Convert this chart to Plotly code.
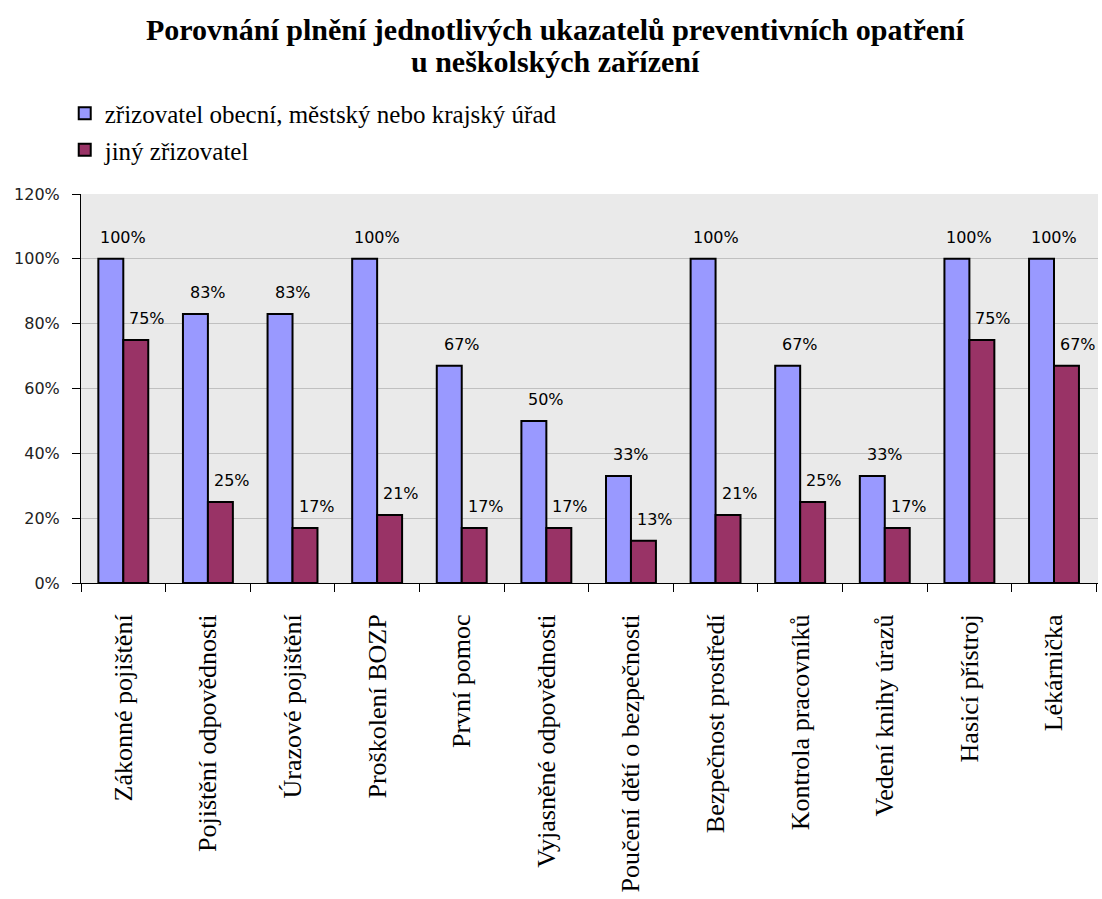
import plotly.graph_objects as go

categories = [
    "Zákonné pojištění",
    "Pojištění odpovědnosti",
    "Úrazové pojištění",
    "Proškolení BOZP",
    "První pomoc",
    "Vyjasněné odpovědnosti",
    "Poučení dětí o bezpečnosti",
    "Bezpečnost prostředí",
    "Kontrola pracovníků",
    "Vedení knihy úrazů",
    "Hasicí přístroj",
    "Lékárnička",
]
obecni = [100, 83, 83, 100, 67, 50, 33, 100, 67, 33, 100, 100]
jiny = [75, 25, 17, 21, 17, 17, 13, 21, 25, 17, 75, 67]

series_names = ["zřizovatel obecní, městský nebo krajský úřad", "jiný zřizovatel"]
series_colors = ["#9999FF", "#993366"]
title_lines = [
    "Porovnání plnění jednotlivých ukazatelů preventivních opatření",
    "u neškolských zařízení",
]

fig = go.Figure()
for i, (name, vals, col) in enumerate(zip(series_names, [obecni, jiny], series_colors)):
    fig.add_trace(go.Bar(
        x=categories, y=vals, name=name, legendgroup=f"g{i}",
        marker=dict(color=col, line=dict(color="black", width=2)),
    ))

# value labels above each bar, Excel style (slightly right of bar centre)
label_font = dict(family="DejaVu Sans", size=16, color="black")
annotations = []
for vals, xs in [(obecni, 0), (jiny, 24)]:
    for c, v in zip(categories, vals):
        annotations.append(dict(
            x=c, y=v, xref="x", yref="y", text=f"{v}%", showarrow=False,
            xanchor="center", yanchor="bottom", xshift=xs, yshift=10,
            font=label_font,
        ))

# chart title, one annotation per line for tighter leading
for line, ypos in zip(title_lines, [1.423, 1.341]):
    annotations.append(dict(
        text=f"<b>{line}</b>",
        x=0.467, y=ypos, xref="paper", yref="paper", xanchor="center", yanchor="middle",
        showarrow=False,
        font=dict(family="Liberation Serif", size=30, color="black"),
    ))

fig.update_layout(
    width=1102, height=899,
    margin=dict(l=81, r=4, t=194, b=316),
    paper_bgcolor="white",
    plot_bgcolor="#EAEAEA",
    barmode="group",
    bargap=0.41,
    bargroupgap=0,
    legend=dict(
        x=-0.016, y=1.266, xanchor="left", yanchor="top",
        font=dict(family="Liberation Serif", size=25, color="black"),
        bgcolor="rgba(0,0,0,0)", tracegroupgap=1,
    ),
    annotations=annotations,
    showlegend=True,
)

fig.update_yaxes(
    range=[0, 120], dtick=20, ticksuffix="%",
    showgrid=True, gridcolor="#C0C0C0", gridwidth=1,
    showline=True, linecolor="black", linewidth=1,
    ticks="outside", ticklen=8, tickcolor="black", ticklabelstandoff=9,
    tickfont=dict(family="DejaVu Sans", size=16, color="#222222"),
    zeroline=False,
)
fig.update_xaxes(
    tickangle=-90, tickson="boundaries", automargin=False,
    showline=True, linecolor="black", linewidth=1,
    ticks="outside", ticklen=8, tickcolor="black", ticklabelstandoff=20,
    tickfont=dict(family="Liberation Serif", size=26, color="black"),
)

fig.write_html("out.html")
